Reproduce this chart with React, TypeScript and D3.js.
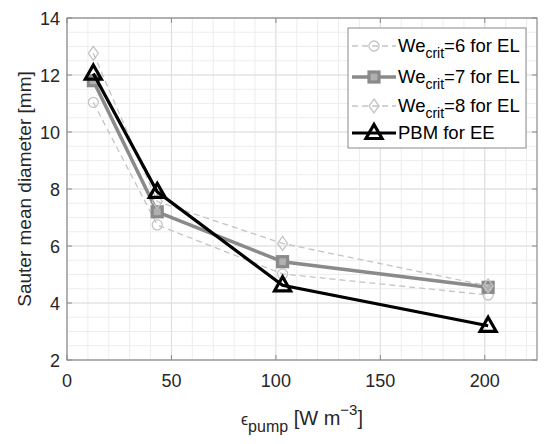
import React from 'react';
import * as d3 from 'd3';

// epsilon_pump values [W m^-3]
const epsPump = [12.6, 43.2, 103.2, 201.6];
// Sauter mean diameter [mm]
const we6 = [11.04, 6.74, 5.02, 4.28];
const we7 = [11.8, 7.2, 5.45, 4.55];
const we8 = [12.76, 7.56, 6.09, 4.6];
const pbm = [12.05, 7.9, 4.62, 3.2];

const xTicks = [0, 50, 100, 150, 200];
const yTicks = [2, 4, 6, 8, 10, 12, 14];

const FONT = '"Liberation Sans", Arial, Helvetica, sans-serif';
const TEXT = '#262626';

type Series = {
  name: string;
  sub?: string;
  rest: string;
  values: number[];
  color: string;
  width: number;
  dash?: string;
  marker: 'circle' | 'square' | 'diamond' | 'triangle';
};

const series: Series[] = [
  { name: 'We', sub: 'crit', rest: '=6 for EL', values: we6, color: '#c4c4c4', width: 1.3, dash: '6,4', marker: 'circle' },
  { name: 'We', sub: 'crit', rest: '=7 for EL', values: we7, color: '#8a8a8a', width: 3.5, marker: 'square' },
  { name: 'We', sub: 'crit', rest: '=8 for EL', values: we8, color: '#c4c4c4', width: 1.3, dash: '6,4', marker: 'diamond' },
  { name: 'PBM for EE', rest: '', values: pbm, color: '#000000', width: 3.2, marker: 'triangle' },
];

const Marker: React.FC<{ kind: Series['marker']; x: number; y: number; color: string }> = ({ kind, x, y, color }) => {
  if (kind === 'circle') {
    return <circle cx={x} cy={y} r={5} fill="none" stroke={color} strokeWidth={1.3} />;
  }
  if (kind === 'square') {
    return <rect x={x - 5} y={y - 5} width={10} height={10} fill="#b0b0b0" stroke={color} strokeWidth={3.2} />;
  }
  if (kind === 'diamond') {
    return <path d={`M${x},${y - 7}L${x + 5},${y}L${x},${y + 7}L${x - 5},${y}Z`} fill="none" stroke={color} strokeWidth={1.3} />;
  }
  return (
    <path
      d={`M${x},${y - 8.5}L${x + 8},${y + 5.5}L${x - 8},${y + 5.5}Z`}
      fill="none"
      stroke={color}
      strokeWidth={3.2}
      strokeLinejoin="miter"
    />
  );
};

export default function App() {
  const W = 550;
  const H = 444;
  const left = 67;
  const right = 537;
  const top = 18;
  const bottom = 360;

  const x = d3.scaleLinear().domain([0, 225]).range([left, right]);
  const y = d3.scaleLinear().domain([2, 14]).range([bottom, top]);

  const minorX = d3.range(0, 226, 10);
  const minorY = d3.range(2, 14.01, 0.5);

  const line = (vals: number[]) =>
    d3.line<number>().x((_, i) => x(epsPump[i])).y((d) => y(d))(vals) || '';

  const legX = 348;
  const legY = 28;
  const legW = 178;
  const legH = 120;
  const rowY = [46, 77, 106, 133];

  return (
    <svg
      width={W}
      height={H}
      style={{ position: 'fixed', left: 0, top: 0, background: '#fff' }}
      fontFamily={FONT}
    >
      <rect x={0} y={0} width={W} height={H} fill="#fff" />
      {/* minor grid */}
      {minorX.map((v) => (
        <line key={'mx' + v} x1={x(v)} x2={x(v)} y1={top} y2={bottom} stroke="#ededed" strokeWidth={1} />
      ))}
      {minorY.map((v) => (
        <line key={'my' + v} x1={left} x2={right} y1={y(v)} y2={y(v)} stroke="#ededed" strokeWidth={1} />
      ))}
      {/* major grid */}
      {xTicks.map((v) => (
        <line key={'gx' + v} x1={x(v)} x2={x(v)} y1={top} y2={bottom} stroke="#dedede" strokeWidth={1} />
      ))}
      {yTicks.map((v) => (
        <line key={'gy' + v} x1={left} x2={right} y1={y(v)} y2={y(v)} stroke="#dedede" strokeWidth={1} />
      ))}

      {/* axes box */}
      <rect x={left} y={top} width={right - left} height={bottom - top} fill="none" stroke="#8a8a8a" strokeWidth={1.2} />
      {xTicks.map((v) => (
        <g key={'tx' + v}>
          <line x1={x(v)} x2={x(v)} y1={bottom} y2={bottom - 5} stroke="#8a8a8a" />
          <line x1={x(v)} x2={x(v)} y1={top} y2={top + 5} stroke="#8a8a8a" />
          <text x={x(v)} y={bottom + 27} textAnchor="middle" fontSize={18} fill={TEXT}>
            {v}
          </text>
        </g>
      ))}
      {yTicks.map((v) => (
        <g key={'ty' + v}>
          <line x1={left} x2={left + 5} y1={y(v)} y2={y(v)} stroke="#8a8a8a" />
          <line x1={right} x2={right - 5} y1={y(v)} y2={y(v)} stroke="#8a8a8a" />
          <text x={left - 7} y={y(v) + 6.5} textAnchor="end" fontSize={18} fill={TEXT}>
            {v}
          </text>
        </g>
      ))}

      {/* series */}
      {series.map((s, si) => (
        <g key={'s' + si}>
          <path d={line(s.values)} fill="none" stroke={s.color} strokeWidth={s.width} strokeDasharray={s.dash} />
          {s.values.map((v, i) => (
            <Marker key={i} kind={s.marker} x={x(epsPump[i])} y={y(v)} color={s.color} />
          ))}
        </g>
      ))}

      {/* legend */}
      <rect x={legX} y={legY} width={legW} height={legH} fill="#fff" stroke="#8a8a8a" strokeWidth={1} />
      {series.map((s, si) => (
        <g key={'l' + si}>
          <line x1={352} x2={396} y1={rowY[si]} y2={rowY[si]} stroke={s.color} strokeWidth={s.width} strokeDasharray={s.dash} />
          <Marker kind={s.marker} x={374} y={rowY[si]} color={s.color} />
          <text x={398} y={rowY[si] + 6} fontSize={18.5} fill="#000">
            {s.name}
            {s.sub && (
              <tspan fontSize={14} dy={6}>
                {s.sub}
              </tspan>
            )}
            {s.rest && <tspan dy={s.sub ? -6 : 0}>{s.rest}</tspan>}
          </text>
        </g>
      ))}

      {/* axis labels */}
      <text
        transform={`translate(31, ${(top + bottom) / 2}) rotate(-90)`}
        textAnchor="middle"
        fontSize={19}
        fill={TEXT}
      >
        Sauter mean diameter [mm]
      </text>
      <text x={302} y={425} textAnchor="middle" fontSize={20} fill={TEXT}>
        <tspan fontSize={16}>ϵ</tspan>
        <tspan fontSize={16} dy={7}>pump</tspan>
        <tspan dy={-7}> [W m</tspan>
        <tspan fontSize={15} dy={-10}>−3</tspan>
        <tspan dy={10}>]</tspan>
      </text>
    </svg>
  );
}
